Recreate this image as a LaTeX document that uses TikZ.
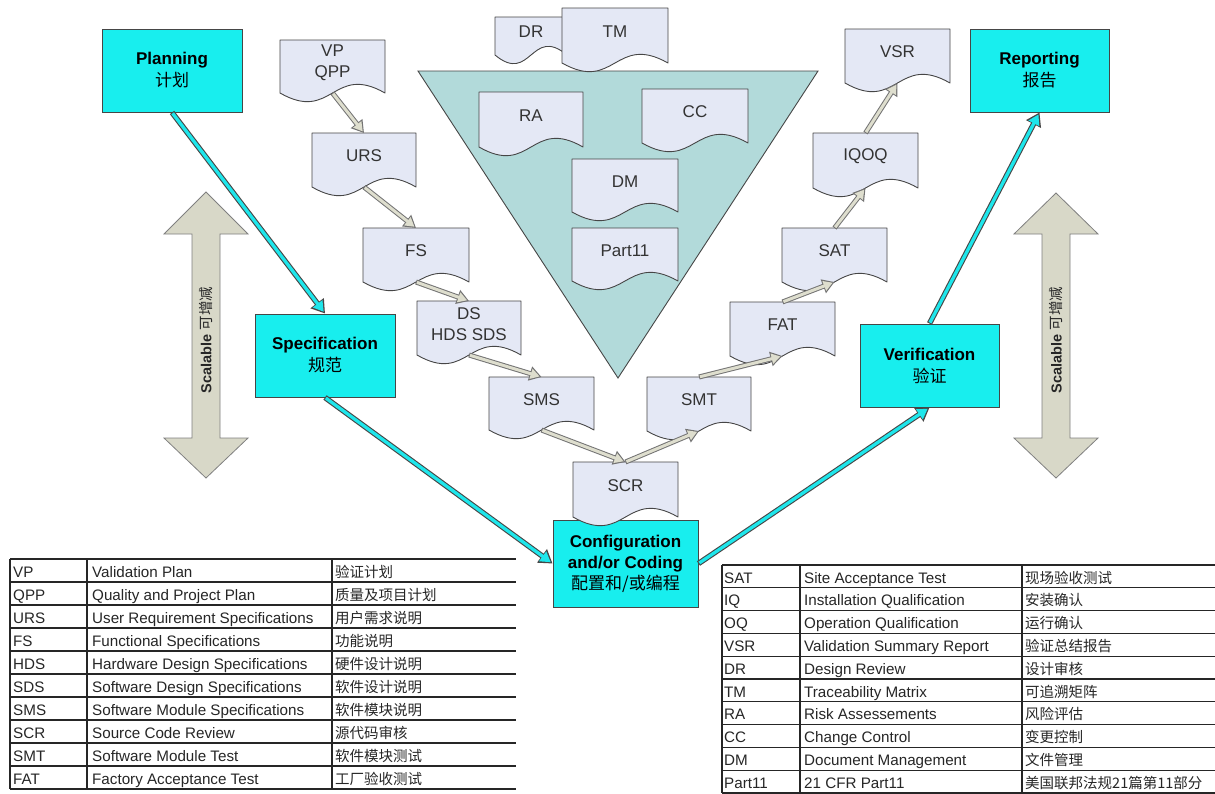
\documentclass[tikz,border=0pt]{standalone}
\usepackage{fontspec}
\setmainfont{Liberation Sans}
\newfontfamily\cjk{Noto Sans CJK SC}
\usetikzlibrary{arrows.meta,calc}
\definecolor{boxcyan}{RGB}{24,238,238}
\definecolor{linecyan}{RGB}{30,230,235}
\definecolor{docfill}{RGB}{228,232,245}
\definecolor{trifill}{RGB}{178,218,218}
\definecolor{scalefill}{RGB}{216,216,200}
\definecolor{beige}{RGB}{222,222,206}
\definecolor{edge}{RGB}{70,70,70}
\tikzset{
 phase/.style={draw=edge, fill=boxcyan, line width=1pt, align=center, inner sep=0pt, font=\fontsize{17}{22}\selectfont},
 docsty/.style={draw=edge, fill=docfill, line width=0.9pt, line join=round},
 docbox/.style={inner sep=0pt, outer sep=0pt},
 doctxt/.style={align=center, text=black!80, font=\fontsize{17}{21}\selectfont, inner sep=0pt},
 cyanout/.style={draw=edge, line width=5.5pt, -{Triangle[length=13pt,width=16pt]}},
 cyanin/.style={draw=linecyan, line width=3.3pt, shorten <=1pt, shorten >=2.2pt, -{Triangle[length=10pt,width=11.5pt]}},
 greyout/.style={draw=black!55, line width=5pt, -{Triangle[length=12pt,width=14pt]}},
 greyin/.style={draw=beige, line width=3pt, shorten <=1pt, shorten >=2pt, -{Triangle[length=9pt,width=10pt]}},
 cell/.style={anchor=base west, inner sep=0pt, font=\fontsize{15.2}{16}\selectfont, text=black!85},
 ccell/.style={anchor=base west, inner sep=0pt, font=\cjk\fontsize{14.5}{16}\selectfont, text=black!85},
 tline/.style={draw=black!85, line width=1.2pt},
 scal/.style={draw=black!50, fill=scalefill, line width=0.8pt, line join=miter},
 scaltxt/.style={rotate=90, inner sep=0pt, font=\fontsize{14.5}{16}\selectfont, text=black!85},
}
\newcommand\docnode[6]{%
 \draw[docsty] (#2,#3) -- (#4,#3) -- (#4,#5) .. controls ({(#2+#4)/2},{#5-30}) and ({(#2+#4)/2},{#5+30}) .. (#2,#5) -- cycle;
 \node[docbox, minimum width={#4-#2}, minimum height={#5-#3}] (#1) at ({(#2+#4)/2},{(#3+#5)/2}) {};
 \node[doctxt] (#1-t) at ([yshift=4pt]#1.center) {#6};
}
\newcommand\cyanarrow[2]{\draw[cyanout] (#1) -- (#2); \draw[cyanin] (#1) -- (#2);}
\newcommand\greyarrow[2]{\draw[greyout] (#1) -- (#2); \draw[greyin] (#1) -- (#2);}
\begin{document}
\begin{tikzpicture}[x=1pt,y=-1pt]
\fill[white] (0,0) rectangle (1215,793);
\useasboundingbox (0,0) rectangle (1215,793);

% central triangle
\draw[draw=edge, fill=trifill, line width=0.9pt, line join=miter] (418,71) -- (818,71) -- (618,378) -- cycle;

% documents
\docnode{dr}{495}{17}{567}{55}{DR}
\docnode{tm}{562}{8}{668}{63}{TM}
\docnode{ra}{479}{92}{583}{147}{RA}
\docnode{cc}{642}{89}{748}{143}{CC}
\docnode{dm}{572}{159}{678}{212}{DM}
\docnode{part}{572}{228}{678}{281}{Part11}

\docnode{vp}{280}{40}{385}{93}{VP\\QPP}
\docnode{urs}{312}{133}{416}{187}{URS}
\docnode{fs}{363}{228}{469}{282}{FS}
\docnode{ds}{417}{301}{521}{355}{DS\\HDS SDS}
\docnode{sms}{489}{377}{594}{430}{SMS}
\docnode{smt}{647}{377}{751}{431}{SMT}
\docnode{fat}{730}{302}{835}{356}{FAT}
\docnode{sat}{782}{228}{887}{282}{SAT}
\docnode{iqoq}{813}{133}{918}{188}{IQOQ}
\docnode{vsr}{845}{29}{950}{83}{VSR}

% phase boxes
\node[phase, minimum width=140pt, minimum height=83pt] (plan) at (172,70.5) {\textbf{Planning}\\{\cjk 计划}};
\node[phase, minimum width=139pt, minimum height=83pt] (rep) at (1039.5,70.5) {\textbf{Reporting}\\{\cjk 报告}};
\node[phase, minimum width=140pt, minimum height=83pt] (spec) at (325,355.5) {\textbf{Specification}\\{\cjk 规范}};
\node[phase, minimum width=139pt, minimum height=83pt] (ver) at (929.5,365.5) {\textbf{Verification}\\{\cjk 验证}};
\node[phase, minimum width=145pt, minimum height=87pt, font=\fontsize{17}{21}\selectfont] (conf) at (625.5,563.5) {\textbf{Configuration}\\\textbf{and/or Coding}\\{\cjk 配置和/或编程}};

\docnode{scr}{573}{462}{678}{517}{SCR}

% grey document arrows
\greyarrow{vp.south}{urs.north}
\greyarrow{urs.south}{fs.north}
\greyarrow{fs.south}{ds.north}
\greyarrow{ds.south}{sms.north}
\greyarrow{sms.south}{scr.north}
\greyarrow{scr.north}{smt.south}
\greyarrow{smt.north}{fat.south}
\greyarrow{fat.north}{sat.south}
\greyarrow{sat.north}{iqoq.south}
\greyarrow{iqoq.north}{vsr.south}

% cyan phase arrows
\cyanarrow{plan.south}{spec.north}
\cyanarrow{spec.south}{conf.west}
\cyanarrow{conf.east}{ver.south}
\cyanarrow{ver.north}{rep.south}

% scalable arrows
\draw[scal] (206,192) -- (248,234) -- (220,234) -- (220,438) -- (248,438) -- (206,478) -- (164,438) -- (192,438) -- (192,234) -- (164,234) -- cycle;
\node[scaltxt] (scalL) at (206,340) {\textbf{Scalable} {\cjk 可增减}};
\draw[scal] (1056,193) -- (1098,234) -- (1070,234) -- (1070,438) -- (1098,438) -- (1056,478) -- (1014,438) -- (1042,438) -- (1042,234) -- (1014,234) -- cycle;
\node[scaltxt] (scalR) at (1056,340) {\textbf{Scalable} {\cjk 可增减}};

% left table
\foreach \k in {0,...,10} \draw[tline] (10,{559+23*\k}) -- (516,{559+23*\k});
\foreach \xx in {10,87,332} \draw[tline] (\xx,559) -- (\xx,789);
\foreach \a/\b/\c [count=\i] in {VP/Validation Plan/验证计划,QPP/Quality and Project Plan/质量及项目计划,URS/User Requirement Specifications/用户需求说明,FS/Functional Specifications/功能说明,HDS/Hardware Design Specifications/硬件设计说明,SDS/Software Design Specifications/软件设计说明,SMS/Software Module Specifications/软件模块说明,SCR/Source Code Review/源代码审核,SMT/Software Module Test/软件模块测试,FAT/Factory Acceptance Test/工厂验收测试}{
  \node[cell] (la\i) at (13,{559+23*(\i-1)+18.5}) {\a};
  \node[cell] (lb\i) at (92,{559+23*(\i-1)+18.5}) {\b};
  \node[ccell] (lc\i) at (335,{559+23*(\i-1)+18.5}) {\c};
}

% right table
\foreach \k in {0,...,10} \draw[tline] (722,{565+22.8*\k}) -- (1215,{565+22.8*\k});
\foreach \xx in {722,800,1022} \draw[tline] (\xx,565) -- (\xx,793);
\foreach \a/\b/\c [count=\i] in {SAT/Site Acceptance Test/现场验收测试,IQ/Installation Qualification/安装确认,OQ/Operation Qualification/运行确认,VSR/Validation Summary Report/验证总结报告,DR/Design Review/设计审核,TM/Traceability Matrix/可追溯矩阵,RA/Risk Assessements/风险评估,CC/Change Control/变更控制,DM/Document Management/文件管理,Part11/21 CFR Part11/美国联邦法规21篇第11部分}{
  \node[cell] (ra\i) at (724,{565+22.8*(\i-1)+18}) {\a};
  \node[cell] (rb\i) at (804,{565+22.8*(\i-1)+18}) {\b};
  \node[ccell] (rc\i) at (1025,{565+22.8*(\i-1)+18}) {\c};
}
\end{tikzpicture}
\end{document}
